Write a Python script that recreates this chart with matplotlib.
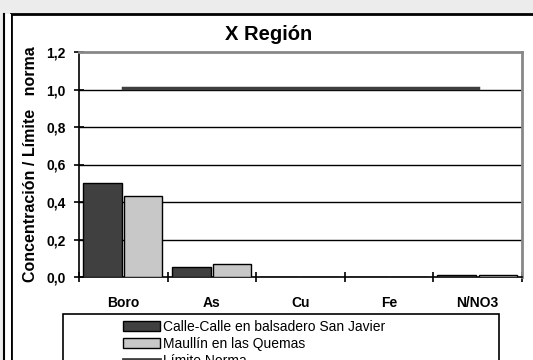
import matplotlib
matplotlib.use("Agg")
import matplotlib.pyplot as plt
from matplotlib.patches import Rectangle
from matplotlib.lines import Line2D
import numpy as np

# ---------------------------
# DATA
# ---------------------------
categories = ["Boro", "As", "Cu", "Fe", "N/NO3"]
calle_calle = [0.50, 0.055, 0.0, 0.0, 0.013]
maullin = [0.43, 0.07, 0.0, 0.0, 0.013]
limite_norma = [1.01, 1.01, 1.01, 1.01, 1.01]
series_names = ["Calle-Calle en balsadero San Javier", "Maullín en las Quemas", "Límite Norma"]
y_ticks = [0.0, 0.2, 0.4, 0.6, 0.8, 1.0, 1.2]
y_tick_labels = ["0,0", "0,2", "0,4", "0,6", "0,8", "1,0", "1,2"]

plt.rcParams["font.family"] = ["Liberation Sans", "DejaVu Sans"]

W, H = 533, 360
fig = plt.figure(figsize=(W / 100, H / 100), dpi=100)
fig.patch.set_facecolor("#ececec")

# white panel with black frame (chart area of the original sheet)
fig.patches.append(Rectangle((11 / W, -0.1), 1.2, 1 - 14 / H + 0.1, transform=fig.transFigure,
                             facecolor="white", edgecolor="black", linewidth=2, zorder=-3))
fig.patches.append(Rectangle((0, 0), 3 / W, 1 - 14 / H, transform=fig.transFigure,
                             facecolor="#ececec", edgecolor="none", zorder=-3))
fig.patches.append(Rectangle((4 / W, 0), 7 / W, 1 - 14 / H, transform=fig.transFigure,
                             facecolor="white", edgecolor="none", zorder=-3))
fig.lines.append(Line2D([3.5 / W, 3.5 / W], [0, 1 - 14 / H], transform=fig.transFigure,
                        color="black", linewidth=1.5, zorder=-2))

ax = fig.add_axes([79 / W, 1 - 277 / H, 443 / W, 225 / H])
ax.set_zorder(1)
ax.set_facecolor("white")
x = np.arange(len(categories))

ax.bar(x - 0.235, calle_calle, width=0.44, color="#404040", edgecolor="black", linewidth=1, zorder=3)
ax.bar(x + 0.225, maullin, width=0.43, color="#c8c8c8", edgecolor="black", linewidth=1, zorder=3)
ax.plot(x, limite_norma, color="#404040", linewidth=2.5, zorder=4)

ax.set_xlim(-0.5, 4.5)
ax.set_ylim(0, 1.2)
ax.set_yticks(y_ticks)
ax.set_yticklabels(y_tick_labels, fontweight="bold", fontsize=10)
for yv in y_ticks[1:-1]:
    ax.axhline(yv, color="black", linewidth=1, zorder=1)

ax.set_xticks(np.arange(-0.5, 5, 1.0))
ax.set_xticklabels([])
ax.set_xticks(x, minor=True)
ax.set_xticklabels(categories, minor=True, fontweight="bold", fontsize=10)
ax.tick_params(axis="x", which="minor", length=0, pad=14)
ax.tick_params(axis="both", which="major", direction="inout", length=7, width=1.2, color="black")
ax.tick_params(axis="y", pad=6)

ax.spines["left"].set_linewidth(1.2)
ax.spines["bottom"].set_linewidth(1.2)
ax.spines["top"].set_color("#888888")
ax.spines["right"].set_color("#888888")
ax.spines["top"].set_linewidth(2)
ax.spines["right"].set_linewidth(2)

fig.text(31 / W, 1 - 164 / H, "Concentración / Límite   norma", rotation=90, ha="center", va="center",
         fontweight="bold", fontsize=11.5)
fig.text(269 / W, 1 - 35 / H, "X Región", ha="center", va="center", fontweight="bold", fontsize=14.5)

# legend box (cut at bottom of the image)
fig.patches.append(Rectangle((63 / W, -0.2), 436 / W, 1 - 314 / H + 0.2, transform=fig.transFigure,
                             facecolor="white", edgecolor="black", linewidth=1.2, zorder=2))
handles = [Rectangle((0, 0), 1, 1, facecolor="#404040", edgecolor="black"),
           Rectangle((0, 0), 1, 1, facecolor="#c8c8c8", edgecolor="black"),
           Line2D([0], [0], color="#404040", linewidth=2)]
leg = fig.legend(handles, series_names, loc="upper left", bbox_to_anchor=(123 / W, 1 - 320 / H),
                 frameon=False, fontsize=10, handlelength=2.65, handleheight=0.8, handletextpad=0.25,
                 labelspacing=0.2, borderpad=0, borderaxespad=0)
leg.set_zorder(3)

fig.savefig("out.png", dpi=100)
